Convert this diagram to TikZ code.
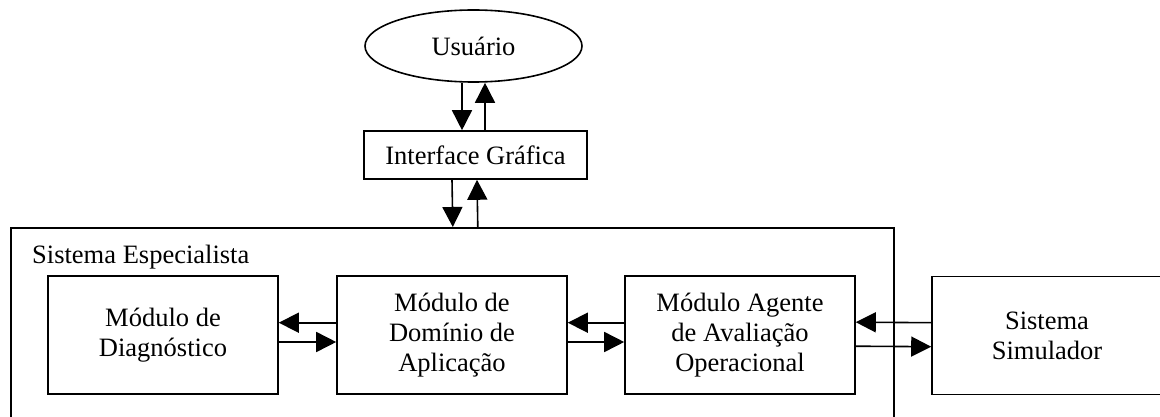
\documentclass[tikz,border=0pt]{standalone}
\usepackage{fontspec}
\setmainfont{Liberation Serif}
\usetikzlibrary{shapes.geometric,arrows.meta}
\begin{document}
\begin{tikzpicture}[x=1pt,y=-1pt,
  every node/.style={font=\fontsize{26.5}{30}\selectfont},
  box/.style={draw,line width=1.6pt,minimum width=230pt,minimum height=118pt,inner sep=0pt,align=center},
  arr/.style={line width=1.6pt,-{Triangle[length=20pt,width=20pt]}}]
\clip (0,0) rectangle (1160,417);
\fill[white] (0,0) rectangle (1160,417);
\node[ellipse,draw,line width=1.6pt,minimum width=217pt,minimum height=72pt,inner sep=0pt] (usr) at (473.5,46) {Usuário};
\node[draw,line width=1.6pt,minimum width=223pt,minimum height=48pt,inner sep=0pt] (ifc) at (475.5,155) {Interface Gráfica};
\node[draw,line width=1.6pt,minimum width=883pt,minimum height=213pt,inner sep=0pt,anchor=north west] (se) at (10,227) {};
\node[anchor=base west,inner sep=0pt] (selbl) at (32,263) {Sistema Especialista};
\node[box] (diag) at (163,335) {Módulo de\\Diagnóstico};
\node[box] (dom) at (452,335) {Módulo de\\Domínio de\\Aplicação};
\node[box] (age) at (740,335) {Módulo Agente\\de Avaliação\\Operacional};
\node[box] (sim) at (1047,335.5) {Sistema\\Simulador};
\draw[arr] ([xshift=-11.5pt]usr.south) -- ([xshift=-13.5pt]ifc.north);
\draw[arr] ([xshift=9.5pt]ifc.north) -- ([xshift=11.5pt]usr.south);
\draw[arr] ([xshift=-23.5pt]ifc.south) -- ([xshift=0.5pt]se.north);
\draw[arr] ([xshift=25.5pt]se.north) -- ([xshift=1.5pt]ifc.south);
\draw[arr] ([yshift=12.3pt]dom.west) -- ([yshift=12.3pt]diag.east);
\draw[arr] ([yshift=-7pt]diag.east) -- ([yshift=-7pt]dom.west);
\draw[arr] ([yshift=12.3pt]age.west) -- ([yshift=12.3pt]dom.east);
\draw[arr] ([yshift=-7pt]dom.east) -- ([yshift=-7pt]age.west);
\draw[arr] ([yshift=12.8pt]sim.west) -- ([yshift=12.8pt]age.east);
\draw[arr] ([yshift=-11.2pt]age.east) -- ([yshift=-11.2pt]sim.west);
\end{tikzpicture}
\end{document}
